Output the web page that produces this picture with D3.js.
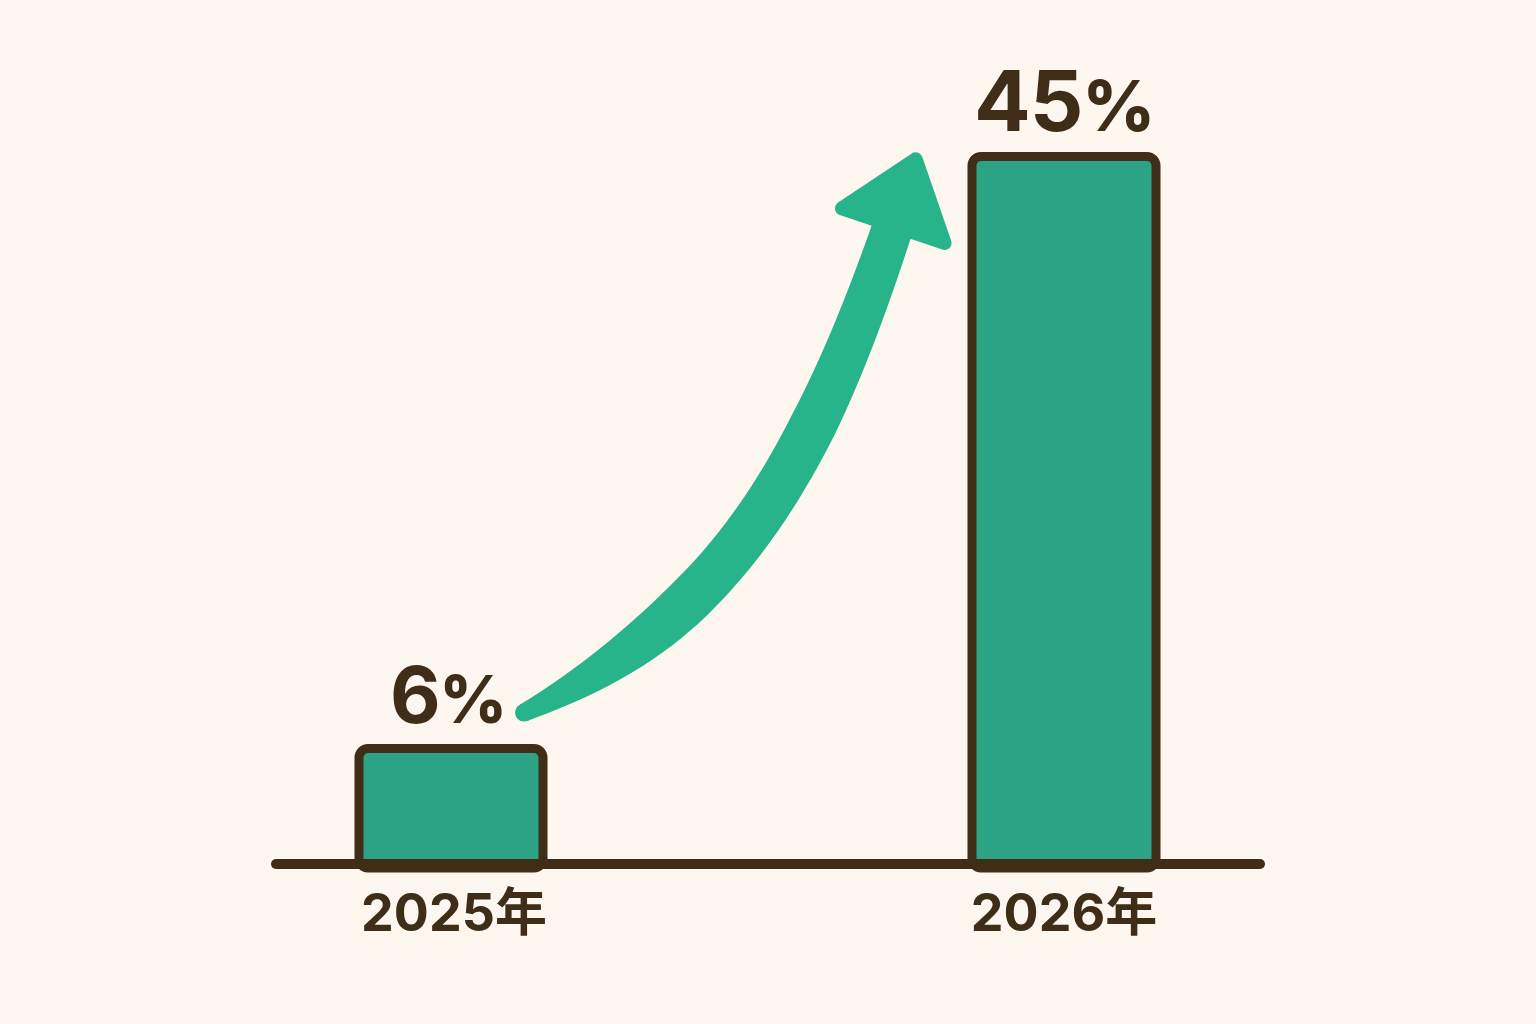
<!DOCTYPE html>
<html>
<head>
<meta charset="utf-8">
<script src="https://cdn.jsdelivr.net/npm/d3@7"></script>
<style>
  html, body { margin: 0; padding: 0; background: #fdf7f0; }
  svg { display: block; }
</style>
</head>
<body>
<div id="chart"></div>
<script>
// chart data
var years = ["2025年", "2026年"];
var values = [6, 45];
var valueLabels = ["6", "45"];

var w = 1536;
var h = 1024;
var baseY = 864;
var barW = 184;
var ink = "#3f2d18";
var barFill = "#2ca384";
var arrowFill = "#27b48b";
var font = "Inter, 'Noto Sans CJK SC', sans-serif";

var svg = d3.select("#chart")
            .append("svg")
            .attr("width", w)
            .attr("height", h);

svg.append("rect")
   .attr("width", w)
   .attr("height", h)
   .attr("fill", "#fdf7f0");

// scales
var x = d3.scalePoint()
          .domain(years)
          .range([451, 1064]);

var y = d3.scalePow()
          .exponent(0.9)
          .domain([0, 45])
          .range([baseY, 156.5]);

// bars
svg.selectAll("rect.bar")
   .data(values)
   .enter()
   .append("rect")
   .attr("class", "bar")
   .attr("x", function(d, i) { return x(years[i]) - barW / 2; })
   .attr("y", function(d) { return y(d); })
   .attr("width", barW)
   .attr("height", function(d) { return baseY - y(d) + 4; })
   .attr("rx", 9)
   .attr("fill", barFill)
   .attr("stroke", ink)
   .attr("stroke-width", 9);

// baseline
svg.append("line")
   .attr("x1", x(years[0]) - 175)
   .attr("x2", x(years[1]) + 196)
   .attr("y1", baseY)
   .attr("y2", baseY)
   .attr("stroke", ink)
   .attr("stroke-width", 10)
   .attr("stroke-linecap", "round");

// value labels
var vl = svg.selectAll("text.val")
   .data(values)
   .enter()
   .append("text")
   .attr("class", "val")
   .attr("x", function(d, i) { return x(years[i]) + (i == 0 ? -3 : 0); })
   .attr("y", function(d) { return y(d) - 26; })
   .attr("text-anchor", "middle")
   .attr("font-family", font)
   .attr("font-weight", 700)
   .attr("font-size", function(d, i) { return i == 0 ? 78 : 84; })
   .attr("letter-spacing", -1)
   .attr("fill", ink);
vl.append("tspan").text(function(d, i) { return valueLabels[i]; });
vl.append("tspan").attr("font-size", "0.84em").attr("font-weight", 800).text("%");

// year labels
svg.selectAll("text.year")
   .data(years)
   .enter()
   .append("text")
   .attr("class", "year")
   .attr("x", function(d, i) { return x(d) + (i == 0 ? 3 : 0); })
   .attr("y", 931)
   .attr("text-anchor", "middle")
   .attr("font-family", font)
   .attr("font-weight", 700)
   .attr("font-size", 52)
   .attr("fill", ink)
   .text(function(d) { return d; });

// growth arrow, anchored on the two bars
var S = [x(years[0]) + barW / 2 - 19, y(values[0]) - 36];
var E = [x(years[1]) - barW / 2 - 80, y(values[1]) + 73];
var dir = [0.32, -0.95];
var C1 = [S[0] + 220 * 0.9, S[1] - 220 * 0.43];
var C2 = [E[0] - 260 * dir[0], E[1] - 260 * dir[1]];

function bez(t) {
    var u = 1 - t;
    var a = u * u * u, b = 3 * u * u * t, c = 3 * u * t * t, e = t * t * t;
    return [a * S[0] + b * C1[0] + c * C2[0] + e * E[0],
            a * S[1] + b * C1[1] + c * C2[1] + e * E[1]];
}
function bezD(t) {
    var u = 1 - t;
    return [3 * u * u * (C1[0] - S[0]) + 6 * u * t * (C2[0] - C1[0]) + 3 * t * t * (E[0] - C2[0]),
            3 * u * u * (C1[1] - S[1]) + 6 * u * t * (C2[1] - C1[1]) + 3 * t * t * (E[1] - C2[1])];
}
function width(t) {
    var wd = 18 + 29 * Math.sin(Math.PI / 2 * Math.min(1, t / 0.35));
    return wd - 6 * Math.max(0, (t - 0.7) / 0.3);
}

var left = [], right = [];
d3.range(0, 1.0001, 0.02).forEach(function(t) {
    var p = bez(t), dv = bezD(t);
    var len = Math.sqrt(dv[0] * dv[0] + dv[1] * dv[1]);
    var nx = -dv[1] / len, ny = dv[0] / len;
    var hw = width(t) / 2;
    left.push([p[0] + nx * hw, p[1] + ny * hw]);
    right.push([p[0] - nx * hw, p[1] - ny * hw]);
});
var outline = left.concat(right.reverse());

svg.append("path")
   .attr("d", d3.line().curve(d3.curveLinearClosed)(outline))
   .attr("fill", arrowFill);

svg.append("circle")
   .attr("cx", S[0])
   .attr("cy", S[1])
   .attr("r", 9)
   .attr("fill", arrowFill);

// arrow head
var nrm = [-dir[1], dir[0]];
var headLen = 74;
var headHalf = 54;
var tip = [E[0] + dir[0] * headLen, E[1] + dir[1] * headLen];
var bl = [E[0] - nrm[0] * headHalf + dir[0] * 4, E[1] - nrm[1] * headHalf + dir[1] * 4];
var br = [E[0] + nrm[0] * headHalf + dir[0] * 4, E[1] + nrm[1] * headHalf + dir[1] * 4];

svg.append("path")
   .attr("d", d3.line().curve(d3.curveLinearClosed)([tip, bl, br]))
   .attr("fill", arrowFill)
   .attr("stroke", arrowFill)
   .attr("stroke-width", 14)
   .attr("stroke-linejoin", "round");
</script>
</body>
</html>
